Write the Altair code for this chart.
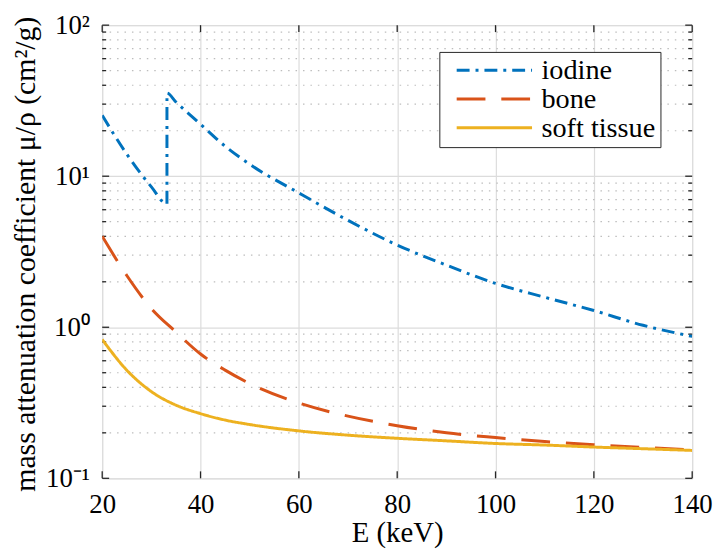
import altair as alt
import pandas as pd

# ---- data ----
materials = ["iodine", "bone", "soft tissue"]
colors = ["#0072BD", "#D95319", "#EDB120"]
dashes = [[13, 6, 3, 6], [29, 16], [1, 0]]

iodine_E = [20, 25, 30, 33.17, 33.17, 35, 40, 45, 50, 60, 70, 80, 90, 100, 110, 120, 130, 140]
iodine_mu = [25.3, 14.0, 8.5, 6.55, 35.5, 31.0, 22.1, 15.8, 12.0, 7.75, 5.1, 3.5, 2.58, 1.95, 1.58, 1.29, 1.03, 0.87]

bone_E = [20, 25, 30, 35, 40, 45, 50, 60, 70, 80, 90, 100, 110, 120, 130, 140]
bone_mu = [4.0, 2.2, 1.33, 0.93, 0.665, 0.52, 0.424, 0.315, 0.258, 0.223, 0.200, 0.186, 0.175, 0.167, 0.160, 0.154]

soft_E = [20, 25, 30, 35, 40, 45, 50, 60, 70, 80, 90, 100, 110, 120, 130, 140]
soft_mu = [0.83, 0.52, 0.375, 0.305, 0.268, 0.243, 0.227, 0.206, 0.193, 0.184, 0.177, 0.170, 0.166, 0.161, 0.157, 0.153]

x_ticks = [20, 40, 60, 80, 100, 120, 140]
y_major = [0.1, 1, 10, 100]
y_minor = [0.2, 0.3, 0.4, 0.5, 0.6, 0.7, 0.8, 0.9,
           2, 3, 4, 5, 6, 7, 8, 9,
           20, 30, 40, 50, 60, 70, 80, 90]

# ---- tables ----
rows = []
for name, es, ms in [("iodine", iodine_E, iodine_mu), ("bone", bone_E, bone_mu), ("soft tissue", soft_E, soft_mu)]:
    for i, (e, m) in enumerate(zip(es, ms)):
        rows.append({"E": e, "mu": m, "material": name, "idx": i})
df = pd.DataFrame(rows)
df_xt = pd.DataFrame({"E": x_ticks})
df_ymaj = pd.DataFrame({"mu": y_major})
df_ymin = pd.DataFrame({"mu": y_minor})

W, H = 595, 457
FONT = "Liberation Serif"
AX = "#262626"

xscale = alt.Scale(domain=[20, 140], nice=False, zero=False)
yscale = alt.Scale(type="log", domain=[0.1, 100], nice=False)

legend = alt.Legend(
    title=None, orient="none", legendX=340, legendY=27,
    fillColor="white", strokeColor=AX, padding=5, cornerRadius=0,
    labelFont=FONT, labelFontSize=28.5, labelColor="black", labelOffset=8,
    symbolType="stroke", symbolSize=76 * 76, symbolStrokeWidth=3, symbolOffset=11,
    rowPadding=0, clipHeight=27,
)

lines = alt.Chart(df).mark_line(strokeWidth=3, clip=True, interpolate="monotone").encode(
    x=alt.X("E:Q", scale=xscale, axis=alt.Axis(
        values=x_ticks, grid=True, gridColor="#dcdcdc", gridWidth=1.2,
        ticks=False, domain=False, labelFont=FONT, labelFontSize=27,
        labelColor="black", labelPadding=13, labelFlush=False,
        title="E (keV)", titleFont=FONT, titleFontSize=29, titleFontWeight="normal",
        titleColor="black", titleY=64, titleBaseline="alphabetic")),
    y=alt.Y("mu:Q", scale=yscale, axis=alt.Axis(
        values=y_major, grid=True, gridColor="#dcdcdc", gridWidth=1.2,
        ticks=False, domain=False, labelFont=FONT, labelFontSize=27,
        labelColor="black", labelPadding=13, labelFlush=False,
        labelExpr="datum.value < 0.5 ? '10⁻¹' : datum.value < 5 ? '10⁰' : datum.value < 50 ? '10¹' : '10²'",
        title="mass attenuation coefficient μ/ρ (cm²/g)", titleFont=FONT, titleFontSize=30,
        titleFontWeight="normal", titleColor="black", titleAngle=270,
        titleX=-68, titleY=H / 2 + 2, titleAlign="center", titleBaseline="alphabetic")),
    color=alt.Color("material:N", scale=alt.Scale(domain=materials, range=colors), legend=legend),
    strokeDash=alt.StrokeDash("material:N", scale=alt.Scale(domain=materials, range=dashes), legend=legend),
    order=alt.Order("idx:Q"),
)

minor_grid = alt.Chart(df_ymin).mark_rule(color="#bdbdbd", strokeWidth=1.2, strokeDash=[1.5, 6]).encode(
    y=alt.Y("mu:Q", scale=yscale), x=alt.value(0), x2=alt.value(W))

tick_style = dict(color=AX, strokeWidth=1.3)
lt_maj = alt.Chart(df_ymaj).mark_rule(**tick_style).encode(y=alt.Y("mu:Q", scale=yscale), x=alt.value(0), x2=alt.value(7))
rt_maj = alt.Chart(df_ymaj).mark_rule(**tick_style).encode(y=alt.Y("mu:Q", scale=yscale), x=alt.value(W - 7), x2=alt.value(W))
lt_min = alt.Chart(df_ymin).mark_rule(**tick_style).encode(y=alt.Y("mu:Q", scale=yscale), x=alt.value(0), x2=alt.value(4))
rt_min = alt.Chart(df_ymin).mark_rule(**tick_style).encode(y=alt.Y("mu:Q", scale=yscale), x=alt.value(W - 4), x2=alt.value(W))
bt = alt.Chart(df_xt).mark_rule(**tick_style).encode(x=alt.X("E:Q", scale=xscale), y=alt.value(H - 7), y2=alt.value(H))
tp = alt.Chart(df_xt).mark_rule(**tick_style).encode(x=alt.X("E:Q", scale=xscale), y=alt.value(0), y2=alt.value(7))

chart = alt.layer(minor_grid, lt_maj, rt_maj, lt_min, rt_min, bt, tp, lines).properties(
    width=W, height=H,
    autosize=alt.AutoSizeParams(type="none"),
    padding={"left": 95, "top": 15, "right": 22, "bottom": 69},
).configure_view(stroke=AX, strokeWidth=1.5).configure(background="white")

chart.save("out.html", embed_options={"renderer": "svg", "actions": False})
